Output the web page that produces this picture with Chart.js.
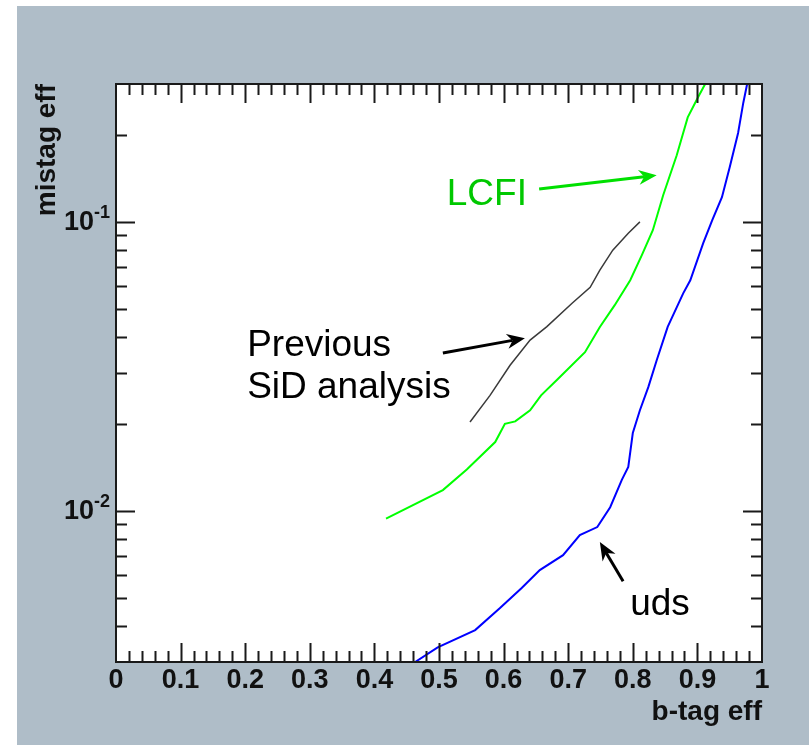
<!DOCTYPE html>
<html>
<head>
<meta charset="utf-8">
<script src="https://cdn.jsdelivr.net/npm/chart.js@4"></script>
<style>
  html, body { margin: 0; padding: 0; background: #fff; }
  #chart { display: block; }
</style>
</head>
<body>
<canvas id="chart" width="809" height="745"></canvas>
<script>
// b-tag efficiency vs mistag efficiency
const lcfiEff    = [0.418, 0.506, 0.543, 0.587, 0.602, 0.618, 0.641, 0.658, 0.684, 0.726, 0.749, 0.772, 0.796, 0.814, 0.831, 0.847, 0.868, 0.885, 0.901, 0.912];
const lcfiMistag = [0.0094, 0.0118, 0.0139, 0.0173, 0.0200, 0.0204, 0.0223, 0.0251, 0.0286, 0.0354, 0.0433, 0.0515, 0.0628, 0.0767, 0.0936, 0.1236, 0.170, 0.230, 0.270, 0.300];

const sidEff    = [0.548, 0.579, 0.610, 0.641, 0.667, 0.706, 0.734, 0.749, 0.769, 0.793, 0.811];
const sidMistag = [0.0203, 0.0251, 0.0319, 0.0390, 0.0434, 0.0523, 0.0594, 0.0681, 0.0798, 0.0914, 0.100];

const udsEff    = [0.463, 0.498, 0.556, 0.594, 0.628, 0.656, 0.692, 0.718, 0.745, 0.765, 0.783, 0.793, 0.800, 0.811, 0.824, 0.837, 0.854, 0.878, 0.889, 0.909, 0.923, 0.938, 0.950, 0.963, 0.971, 0.977];
const udsMistag = [0.0030, 0.00337, 0.00387, 0.00460, 0.00541, 0.00624, 0.00703, 0.00824, 0.00879, 0.0103, 0.0128, 0.0142, 0.0186, 0.0223, 0.0268, 0.0332, 0.0433, 0.0566, 0.0628, 0.0844, 0.1014, 0.1217, 0.1545, 0.203, 0.258, 0.300];

const yDecades = [0.01, 0.1];
const yDecadeExp = ["-2", "-1"];

const FONT = "'Liberation Sans', Arial, Helvetica, sans-serif";
const pts = (xs, ys) => xs.map((x, i) => ({ x: x, y: ys[i] }));

// annotations (data coordinates)
const notes = [
  { text: ["LCFI"], color: "#00c800", at: [0.512, 0.114] },
  { text: ["Previous", "SiD analysis"], color: "#000", at: [0.203, 0.0343] },
  { text: ["uds"], color: "#000", at: [0.796, 0.00436] },
];
const arrows = [
  { from: [0.655, 0.130], to: [0.837, 0.145], color: "#00e000" },
  { from: [0.506, 0.0352], to: [0.633, 0.0396], color: "#000" },
  { from: [0.785, 0.00571], to: [0.749, 0.0078], color: "#000" },
];

const frame = {
  id: "frame",
  beforeDraw(chart) {
    const { ctx, chartArea: a } = chart;
    ctx.save();
    ctx.fillStyle = "#fff";
    ctx.fillRect(0, 0, chart.width, chart.height);
    ctx.fillStyle = "#afbdc8";
    ctx.fillRect(17, 6, chart.width - 17, chart.height - 6);
    ctx.fillStyle = "#fff";
    ctx.fillRect(a.left, a.top, a.right - a.left, a.bottom - a.top);
    ctx.restore();
  },
  afterDraw(chart) {
    const { ctx, chartArea: a, scales } = chart;
    const xs = scales.x, ys = scales.y;
    ctx.save();
    ctx.strokeStyle = "#1a1a1a";
    ctx.lineWidth = 2;
    ctx.strokeRect(a.left, a.top, a.right - a.left, a.bottom - a.top);
    ctx.beginPath();
    // x ticks, every 0.02, major every 0.1
    for (let i = 1; i < 50; i++) {
      const len = i % 5 === 0 ? 19 : 11;
      const px = Math.round(xs.getPixelForValue(i / 50)) + 0.5;
      ctx.moveTo(px, a.bottom); ctx.lineTo(px, a.bottom - len);
      ctx.moveTo(px, a.top); ctx.lineTo(px, a.top + len);
    }
    // y ticks, log
    for (let e = -3; e <= -1; e++) {
      for (let k = 1; k <= 9; k++) {
        const v = k * Math.pow(10, e);
        if (v <= ys.min * 1.0001 || v >= ys.max * 0.9999) continue;
        const len = k === 1 ? 19 : 11;
        const py = Math.round(ys.getPixelForValue(v)) + 0.5;
        ctx.moveTo(a.left, py); ctx.lineTo(a.left + len, py);
        ctx.moveTo(a.right, py); ctx.lineTo(a.right - len, py);
      }
    }
    ctx.stroke();

    // y tick labels 10^n
    ctx.fillStyle = "#111";
    yDecades.forEach((v, i) => {
      const py = ys.getPixelForValue(v);
      ctx.font = "bold 18px " + FONT;
      const supW = ctx.measureText(yDecadeExp[i]).width;
      ctx.textAlign = "left";
      ctx.textBaseline = "alphabetic";
      ctx.fillText(yDecadeExp[i], 110 - supW, py - 4);
      ctx.font = "bold 27px " + FONT;
      ctx.textAlign = "right";
      ctx.fillText("10", 110 - supW, py + 8);
    });
    ctx.restore();
  },
  afterDatasetsDraw(chart) {
    const { ctx, scales } = chart;
    const X = (v) => scales.x.getPixelForValue(v);
    const Y = (v) => scales.y.getPixelForValue(v);
    ctx.save();
    arrows.forEach((ar) => {
      const x0 = X(ar.from[0]), y0 = Y(ar.from[1]);
      const x1 = X(ar.to[0]), y1 = Y(ar.to[1]);
      const ang = Math.atan2(y1 - y0, x1 - x0);
      const hl = 18, hw = 7.5;
      ctx.strokeStyle = ar.color;
      ctx.fillStyle = ar.color;
      ctx.lineWidth = 3;
      ctx.beginPath();
      ctx.moveTo(x0, y0);
      ctx.lineTo(x1 - Math.cos(ang) * hl * 0.7, y1 - Math.sin(ang) * hl * 0.7);
      ctx.stroke();
      ctx.beginPath();
      ctx.moveTo(x1, y1);
      ctx.lineTo(x1 - Math.cos(ang) * hl + Math.sin(ang) * hw, y1 - Math.sin(ang) * hl - Math.cos(ang) * hw);
      ctx.lineTo(x1 - Math.cos(ang) * hl * 0.7, y1 - Math.sin(ang) * hl * 0.7);
      ctx.lineTo(x1 - Math.cos(ang) * hl - Math.sin(ang) * hw, y1 - Math.sin(ang) * hl + Math.cos(ang) * hw);
      ctx.closePath();
      ctx.fill();
    });
    ctx.font = "37px " + FONT;
    ctx.textAlign = "left";
    ctx.textBaseline = "alphabetic";
    notes.forEach((n) => {
      ctx.fillStyle = n.color;
      n.text.forEach((t, i) => ctx.fillText(t, X(n.at[0]), Y(n.at[1]) + i * 42));
    });
    ctx.restore();
  },
};

new Chart(document.getElementById("chart"), {
  type: "line",
  data: {
    datasets: [
      {
        label: "LCFI",
        data: pts(lcfiEff, lcfiMistag),
        borderColor: "#00ff00",
        borderWidth: 2,
        pointRadius: 0,
        tension: 0,
      },
      {
        label: "Previous SiD analysis",
        data: pts(sidEff, sidMistag),
        borderColor: "#3a3a3a",
        borderWidth: 1.5,
        pointRadius: 0,
        tension: 0,
      },
      {
        label: "uds",
        data: pts(udsEff, udsMistag),
        borderColor: "#0000ff",
        borderWidth: 2,
        pointRadius: 0,
        tension: 0,
      },
    ],
  },
  options: {
    responsive: false,
    animation: false,
    events: [],
    layout: { padding: { left: 0, top: 84, right: 47, bottom: 0 } },
    plugins: { legend: { display: false }, tooltip: { enabled: false } },
    scales: {
      x: {
        type: "linear",
        min: 0,
        max: 1,
        afterFit: (s) => { s.height = 83; },
        grid: { display: false, drawTicks: false },
        border: { display: false },
        ticks: {
          stepSize: 0.1,
          padding: 2,
          color: "#111",
          font: { family: FONT, size: 27, weight: "bold" },
          callback: (v) => String(Math.round(v * 10) / 10),
        },
        title: {
          display: true,
          text: "b-tag eff",
          align: "end",
          color: "#111",
          font: { family: FONT, size: 28, weight: "bold" },
          padding: { top: 0, bottom: 16 },
        },
      },
      y: {
        type: "logarithmic",
        min: 0.003,
        max: 0.3,
        afterFit: (s) => { s.width = 116; },
        grid: { display: false, drawTicks: false },
        border: { display: false },
        ticks: { display: false },
        title: {
          display: true,
          text: "mistag eff",
          align: "end",
          color: "#111",
          font: { family: FONT, size: 28, weight: "bold" },
          padding: { top: 30, bottom: 0 },
        },
      },
    },
  },
  plugins: [frame],
});
</script>
</body>
</html>
